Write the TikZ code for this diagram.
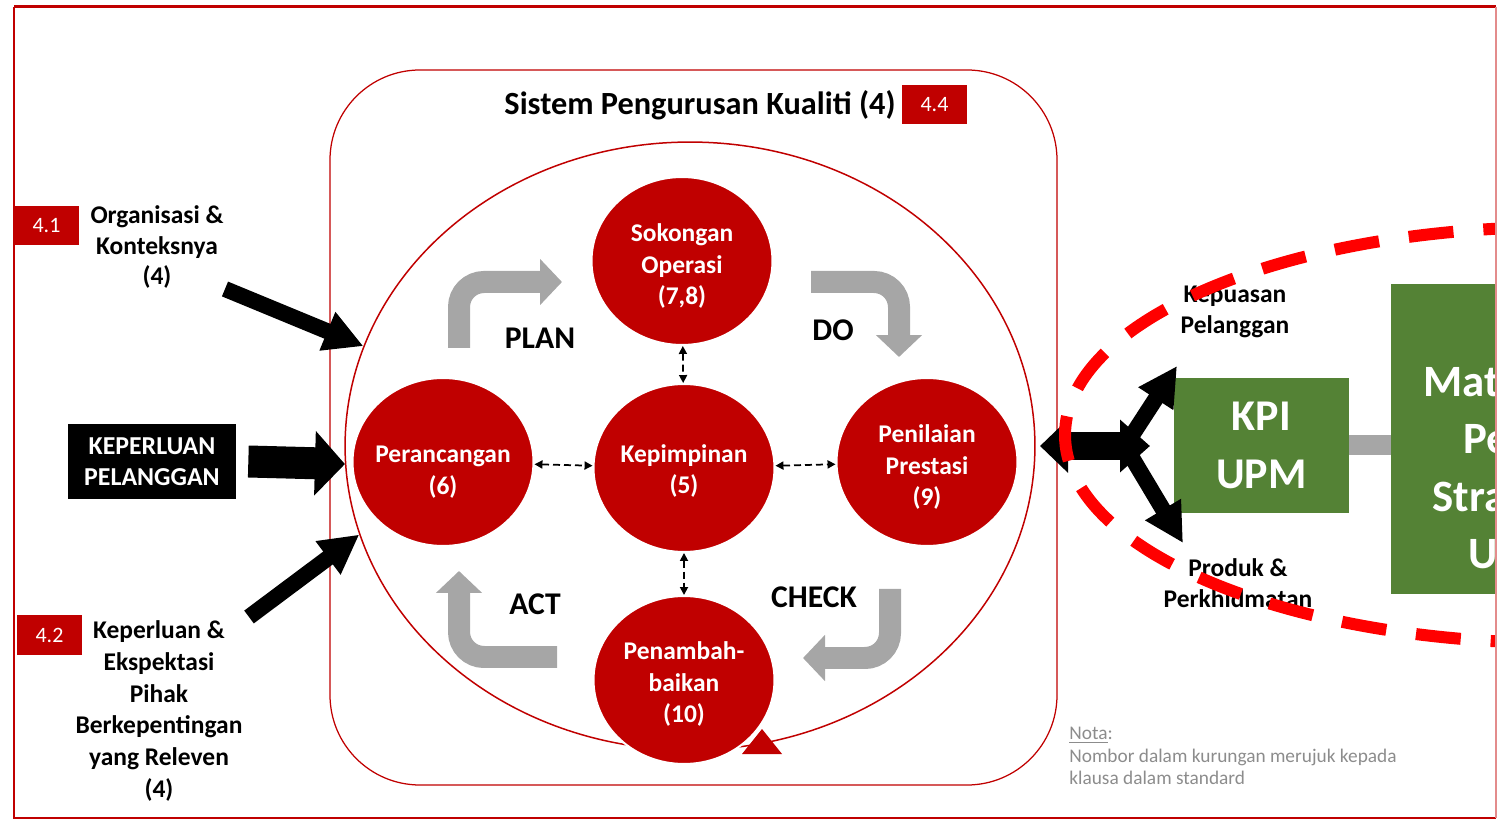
\documentclass[tikz,border=0pt]{standalone}
\usepackage{fontspec}
\setmainfont{Carlito}
\usetikzlibrary{arrows.meta,shapes.geometric}
\definecolor{qmsred}{HTML}{C00000}
\definecolor{kpigreen}{HTML}{548235}
\definecolor{cyclegray}{HTML}{A6A6A6}
\definecolor{notegray}{HTML}{8C8C8C}
\definecolor{hotred}{HTML}{FF0000}
\newcommand{\fsz}[2]{\fontsize{#1}{#2}\selectfont}
\tikzset{
  clausebox/.style={fill=qmsred, text=white, font=\fsz{12.5}{14}, minimum width=1.3cm, minimum height=0.78cm, inner sep=0pt},
  ringnode/.style={ellipse, fill=qmsred, draw=white, line width=0.04cm, minimum width=3.62cm, minimum height=3.36cm, inner sep=0pt},
  ringtext/.style={text=white, font=\bfseries\fsz{14.5}{18.1}, align=center, inner sep=0pt},
  sidetext/.style={font=\bfseries\fsz{14.5}{17.6}, align=center, inner sep=0pt},
  phase/.style={font=\bfseries\fsz{18}{20}, inner sep=0pt, anchor=base},
  cyclearrow/.style={cyclegray, line width=0.44cm, rounded corners=0.5cm, -{Triangle[length=0.44cm,width=0.9cm]}},
  inarrow/.style={line width=0.32cm, -{Triangle[length=0.78cm,width=0.78cm]}},
  linkarrow/.style={line width=0.035cm, dash pattern=on 0.14cm off 0.08cm, {Triangle[length=0.16cm,width=0.16cm]}-{Triangle[length=0.16cm,width=0.16cm]}},
}
\begin{document}
\begin{tikzpicture}[x=0.02cm, y=-0.02cm]
  \useasboundingbox (0,0) rectangle (1498,820);

  % sistem pengurusan kualiti
  \draw[qmsred, line width=0.025cm, rounded corners=1.8cm] (330,70) rectangle (1057,785);
  \node[font=\bfseries\fsz{18.4}{22}, inner sep=0pt, anchor=base] (title) at (700,115) {Sistem Pengurusan Kualiti (4)};
  \node[clausebox] (c44) at (934.5,104.5) {4.4};

  \node[ellipse, draw=qmsred, line width=0.03cm, minimum width=13.8cm, minimum height=12.16cm, inner sep=0pt] (ring) at (690,446) {};
  \fill[qmsred] (742,754) -- (782,754) -- (762,729) -- cycle;

  \node[ringnode, label={[ringtext, yshift=-0.1cm]center:{Sokongan\\Operasi\\(7,8)}}] (sok) at (682,261) {};
  \node[ringnode, label={[ringtext, yshift=-0.2cm]center:{Perancangan\\(6)}}] (per) at (443,462) {};
  \node[ringnode, label={[ringtext, yshift=-0.06cm]center:{Kepimpinan\\(5)}}] (kep) at (684,468) {};
  \node[ringnode, label={[ringtext, yshift=-0.1cm]center:{Penilaian\\Prestasi\\(9)}}] (pen) at (927,462) {};
  \node[ringnode, label={[ringtext, yshift=-0.08cm]center:{Penambah-\\baikan\\(10)}}] (pnb) at (684,680) {};

  \draw[linkarrow] (sok) -- (kep);
  \draw[linkarrow] (per) -- (kep);
  \draw[linkarrow] (kep) -- (pen);
  \draw[linkarrow] (kep) -- (pnb);

  \draw[cyclearrow] (459,348) -- (459,282) -- (562,282);
  \draw[cyclearrow] (811,282) -- (899,282) -- (899,357);
  \draw[cyclearrow] (890,589) -- (890,658) -- (803,658);
  \draw[cyclearrow] (557,657) -- (459,657) -- (459,571);
  \node[phase] (plan) at (540,349) {PLAN};
  \node[phase] (do) at (833,341) {DO};
  \node[phase] (check) at (814,607) {CHECK};
  \node[phase] (act) at (535,615) {ACT};

  % input kiri
  \node[clausebox] (c41) at (46.5,226) {4.1};
  \node[sidetext] (org) at (157,247) {Organisasi \&\\Konteksnya\\(4)};
  \node[fill=black, text=white, font=\bfseries\fsz{14.7}{17.6}, align=center, minimum width=3.36cm, minimum height=1.5cm, inner sep=0pt] (kp) at (152,461.5) {KEPERLUAN\\PELANGGAN};
  \node[clausebox, minimum height=0.8cm] (c42) at (49.5,635) {4.2};
  \node[sidetext, font=\bfseries\fsz{14.5}{18.1}] (pihak) at (159,711) {Keperluan \&\\Ekspektasi\\Pihak\\Berkepentingan\\yang Releven\\(4)};
  \coordinate (orgEnd) at (225,289);
  \coordinate (pihakEnd) at (249,617);
  \draw[inarrow] (orgEnd) -- (ring.163);
  \draw[line width=0.64cm, -{Triangle[length=0.6cm,width=1.26cm]}] ([xshift=0.24cm]kp.east) -- (ring.183);
  \draw[inarrow] (pihakEnd) -- (ring.195);

  % output kanan
  \node[fill=kpigreen, text=white, font=\bfseries\fsz{25}{33}, align=center, minimum width=3.5cm, minimum height=2.7cm, inner sep=0pt] (kpi) at (1261.5,445.5) {KPI\\UPM};
  \node[sidetext] (puas) at (1235,312) {Kepuasan\\Pelanggan};
  \node[sidetext] (produk) at (1238,583) {Produk \&\\Perkhidmatan};
  \coordinate (ringE) at (1040,446);
  \coordinate (hubR) at (1150,446);
  \coordinate (hub) at (1125,446);
  \coordinate (puasTip) at (1177,366);
  \coordinate (produkTip) at (1183,543);
  \draw[line width=0.56cm, {Triangle[length=0.56cm,width=1.04cm]}-{Triangle[length=0.6cm,width=1.02cm]}] (ringE) -- (hubR);
  \draw[inarrow] (hub) -- (puasTip);
  \draw[inarrow] (hub) -- (produkTip);

  \begin{scope}
    \clip (14,7) rectangle (1496,818);
    \node[fill=kpigreen, minimum width=4.96cm, minimum height=6.2cm, inner sep=0pt] (pelan) at (1515,439) {};
    \node[text=white, font=\bfseries\fsz{25.5}{32.6}, align=center, inner sep=0pt] (pelantext) at (1515,467) {Matlamat\\Pelan\\Strategik\\UPM};
    \draw[cyclegray, line width=0.4cm] (kpi.east) -- (kpi.east -| pelan.west);
    \draw[hotred, line width=0.24cm, dash pattern=on 0.9cm off 0.6cm] (1560,435) ellipse [x radius=495, y radius=208];
  \end{scope}

  \node[text=notegray, font=\fsz{11}{13}, align=left, inner sep=0pt, anchor=west] (nota) at (1069,756) {\underline{Nota}:\\Nombor dalam kurungan merujuk kepada\\klausa dalam standard};

  % bingkai
  \draw[qmsred, line width=0.03cm] (1496,818) -- (14,818) -- (14,7);
  \draw[qmsred, line width=0.06cm] (14,7) -- (1496,7);
  \draw[qmsred!45, line width=0.03cm] (1496,7) -- (1496,818);
\end{tikzpicture}
\end{document}
